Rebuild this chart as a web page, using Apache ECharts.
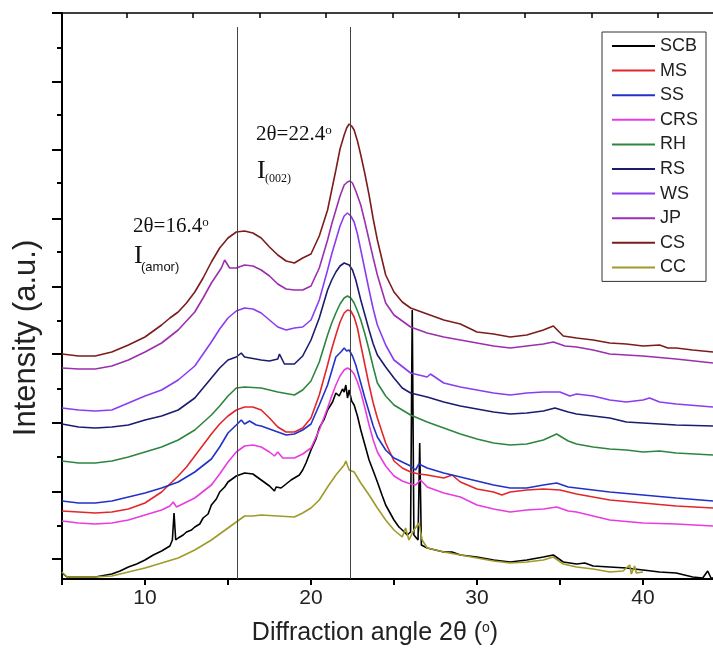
<!DOCTYPE html>
<html>
<head>
<meta charset="utf-8">
<script src="https://cdn.jsdelivr.net/npm/echarts/dist/echarts.min.js"></script>
<style>
  html, body { margin: 0; padding: 0; background: #fff; }
  #chart { width: 713px; height: 666px; }
</style>
</head>
<body>
<div id="chart"></div>
<script>
// XRD patterns of the ten biomass samples, stacked (2θ in degrees, intensity in a.u.)
const seriesNames = ['SCB', 'MS', 'SS', 'CRS', 'RH', 'RS', 'WS', 'JP', 'CS', 'CC'];

const SCB = [[5,6],[5.3,2],[6,2],[7,2],[8,5],[8.5,8],[9,12],[9.5,15],[10,19],[10.5,24],[11,28],[11.3,31],[11.5,33],[11.65,39],[11.75,66],[11.85,39],[12,41],[12.3,44],[12.5,47],[12.8,49],[13,52],[13.3,55],[13.5,61],[13.8,65],[14,74],[14.3,80],[14.5,87],[14.8,92],[15,97],[15.5,103],[16,106],[16.5,105],[17,99],[17.5,93],[17.8,88],[17.9,92],[18,94],[18.2,91],[18.5,95],[18.8,99],[19,101],[19.3,104],[19.5,109],[19.7,116],[20,129],[20.3,140],[20.5,151],[20.8,160],[21,169],[21.3,177],[21.5,186],[21.7,183],[21.9,190],[22,187],[22.1,194],[22.2,181],[22.3,189],[22.45,178],[22.6,174],[22.8,163],[23,149],[23.2,137],[23.5,119],[23.8,106],[24,97],[24.3,83],[24.5,74],[24.8,65],[25,59],[25.3,52],[25.5,49],[25.8,44],[26,47],[26.1,269],[26.2,44],[26.45,39],[26.55,136],[26.65,34],[27,31],[27.5,29],[28,27],[28.5,27],[29,24],[30,22],[31,19],[32,17],[33,19],[34,22],[34.6,24],[35.2,17],[36,15],[36.5,16],[37,13],[38,12],[39,11],[40,9],[41,7],[42,6],[43,2],[43.6,1],[43.9,8],[44.1,1],[44.22,1]];

const MS = [[5,68],[6,67],[7,66],[8,67],[9,70],[10,76],[11,87],[12,103],[12.5,112],[13,123],[13.5,134],[14,145],[14.5,155],[15,163],[15.5,169],[16,172],[16.5,172],[17,169],[17.5,161],[18,152],[18.5,147],[19,147],[19.5,151],[20,161],[20.5,184],[21,214],[21.25,230],[21.5,244],[21.75,257],[22,266],[22.2,269],[22.4,268],[22.6,262],[22.8,251],[23,234],[23.25,214],[23.5,194],[23.75,176],[24,161],[24.5,136],[25,118],[25.5,111],[26,107],[26.5,105],[27,104],[28,101],[28.5,104],[29,97],[30,90],[31,87],[31.5,84],[32,87],[33,89],[34,90],[35,89],[36,85],[38,79],[40,76],[42,73],[44.22,71]];

const SS = [[5,78],[6,76],[7,76],[8,78],[9,82],[10,86],[11,91],[12,97],[13,107],[14,120],[14.5,132],[15,146],[15.5,154],[15.8,159],[16,155],[16.3,158],[16.7,154],[17,153],[18,147],[18.5,144],[19,145],[19.5,149],[20,155],[20.5,174],[21,194],[21.25,208],[21.5,222],[21.8,227],[22,231],[22.15,228],[22.3,229],[22.5,223],[22.7,214],[23,196],[23.25,181],[23.5,167],[23.75,153],[24,142],[24.5,129],[25,121],[25.5,117],[26,113],[26.3,109],[26.5,115],[27,111],[28,106],[29,102],[30,98],[31,94],[32,91],[33,91],[34,94],[34.8,96],[35.5,92],[36,91],[38,87],[40,84],[42,81],[44.22,78]];

const CRS = [[5,58],[6,56],[7,55],[8,56],[9,59],[10,64],[11,69],[11.5,73],[11.7,77],[11.9,72],[12,74],[13,81],[14,94],[14.5,105],[15,117],[15.5,127],[16,133],[16.5,134],[17,132],[17.5,127],[17.8,123],[18,127],[18.3,121],[19,121],[19.5,125],[20,131],[20.5,149],[21,171],[21.25,183],[21.5,194],[21.75,203],[22,209],[22.2,211],[22.4,209],[22.6,205],[22.8,197],[23,187],[23.25,171],[23.5,154],[23.75,139],[24,127],[24.5,113],[25,103],[25.5,98],[26,95],[26.3,94],[26.6,99],[27,92],[28,86],[29,82],[30,74],[31,70],[32,67],[33,69],[34,70],[34.8,72],[35.5,68],[36,67],[38,59],[40,56],[42,55],[44.22,53]];

const RH = [[5,118],[6,116],[7,116],[8,118],[9,122],[10,127],[11,132],[12,139],[13,149],[14,164],[14.5,173],[15,183],[15.5,191],[16,192],[17,191],[18,187],[19,184],[19.5,189],[20,198],[20.5,217],[21,244],[21.25,256],[21.5,266],[21.75,275],[22,281],[22.2,283],[22.4,281],[22.6,276],[22.8,268],[23,259],[23.25,245],[23.5,229],[23.75,212],[24,196],[24.5,183],[25,174],[26,164],[27,157],[28,151],[29,145],[30,140],[31,136],[32,134],[33,135],[34,139],[34.8,145],[35.5,138],[36,135],[37,132],[38,130],[39,129],[40,127],[41,128],[42,126],[44.22,124]];

const RS = [[5,155],[6,152],[7,151],[8,152],[9,154],[10,159],[11,163],[12,169],[13,181],[14,201],[14.5,211],[15,219],[15.5,222],[15.8,226],[16,222],[17,219],[17.5,218],[18,220],[18.1,225],[18.4,215],[19,215],[19.5,223],[20,239],[20.5,261],[21,289],[21.25,299],[21.5,307],[21.75,313],[22,316],[22.3,314],[22.5,309],[22.7,299],[23,279],[23.25,264],[23.5,249],[23.75,235],[24,224],[24.5,212],[25,201],[25.5,191],[26,186],[27,182],[28,177],[29,173],[30,170],[31,167],[32,165],[33,166],[34,168],[34.7,171],[35.5,167],[36,165],[37,163],[38,161],[39,157],[40,156],[42,154],[44.22,153]];

const WS = [[5,171],[6,169],[7,168],[8,169],[9,176],[10,183],[11,189],[12,199],[13,213],[14,237],[14.5,250],[15,261],[15.5,268],[16,271],[16.5,270],[17,266],[17.5,259],[18,252],[18.5,249],[19,251],[19.5,252],[20,259],[20.5,279],[21,309],[21.25,325],[21.5,339],[21.75,353],[22,363],[22.2,366],[22.4,363],[22.6,357],[22.8,345],[23,329],[23.25,309],[23.5,289],[23.75,270],[24,254],[24.5,234],[25,219],[26,206],[27,202],[27.2,205],[28,196],[29,192],[30,189],[31,186],[32,184],[33,186],[34,187],[35,187],[35.6,183],[36,185],[37,183],[38,179],[39,177],[40,179],[40.4,181],[41,177],[42,175],[44.22,172]];

const JP = [[5,211],[6,210],[7,210],[8,213],[9,219],[10,227],[11,236],[12,249],[13,267],[13.5,281],[14,296],[14.6,311],[14.8,319],[15.1,311],[15.5,311],[16,314],[16.5,313],[17,309],[17.5,303],[18,295],[18.5,290],[19,289],[19.5,289],[20,293],[20.5,311],[21,339],[21.25,355],[21.5,369],[21.75,383],[22,394],[22.2,397],[22.35,398],[22.5,396],[22.7,388],[23,374],[23.25,357],[23.5,339],[23.75,321],[24,304],[24.5,276],[25,264],[26,252],[27,246],[28,242],[29,239],[30,236],[31,233],[32,231],[33,233],[34,235],[34.6,237],[35.3,233],[36,232],[37,229],[38,225],[40,223],[42,220],[44.22,216]];

const CS = [[5,225],[6,223],[7,223],[8,227],[9,234],[10,242],[11,254],[11.5,261],[12,267],[12.5,276],[13,287],[13.5,301],[14,317],[14.5,331],[15,341],[15.5,347],[16,348],[16.5,346],[17,341],[17.5,332],[18,324],[18.5,318],[19,316],[19.5,321],[20,325],[20.5,343],[21,369],[21.25,389],[21.5,409],[21.75,430],[22,444],[22.15,451],[22.3,455],[22.45,453],[22.6,449],[22.8,438],[23,424],[23.25,405],[23.5,384],[23.75,360],[24,339],[24.5,304],[25,287],[25.5,277],[26,271],[27,265],[28,259],[29,255],[30,247],[31,245],[32,242],[33,244],[34,249],[34.6,253],[35.2,243],[36,241],[37,239],[38,236],[39,235],[40,233],[41,234],[41.5,231],[42,231],[43,229],[44.22,227]];

const CC = [[5,7],[5.3,2],[6,2],[7,2],[8,3],[9,7],[10,11],[11,16],[12,21],[13,29],[14,39],[15,51],[15.5,57],[16,63],[16.5,63],[17,64],[18,63],[19,62],[19.5,66],[20,71],[20.5,79],[21,92],[21.5,104],[22,114],[22.1,118],[22.3,109],[22.6,107],[23,96],[23.5,84],[24,71],[24.5,59],[25,49],[25.5,42],[25.7,51],[25.9,39],[26.2,49],[26.5,56],[26.7,39],[27,31],[28,27],[29,24],[30,21],[31,18],[32,16],[33,17],[34,19],[34.6,22],[35.2,15],[36,12],[37,10],[38,7],[38.8,8],[39.2,14],[39.3,5],[39.5,13],[39.6,6],[40,7]];

const seriesData = [SCB, MS, SS, CRS, RH, RS, WS, JP, CS, CC];
const seriesColors = ['#000000', '#e3262a', '#2231c8', '#e83ce0', '#2e8540', '#1c1c6e', '#8a3cf0', '#9b2fae', '#7b1d1d', '#a09a28'];

// reference lines for the amorphous and crystalline (002) reflections
const refLines = [15.58, 22.35];
const refLineTop = 552;

// axis ticks
const bottomTicks = [5, 10, 15, 20, 25, 30, 35, 40];
const bottomLabels = [10, 20, 30, 40];
const topTicks = [8.9, 12.9, 16.9, 20.9, 24.9, 28.9, 32.9, 36.9, 40.9];
const leftMajorTicks = [20, 87, 156, 225, 292, 360, 429, 497, 566];
const leftMinorTicks = [53, 122, 190, 258, 327, 396, 464, 531];

const serif = '"Liberation Serif", "Times New Roman", serif';
const sans = '"Liberation Sans", Arial, sans-serif';

const chart = echarts.init(document.getElementById('chart'), null, { renderer: 'canvas' });

const series = seriesNames.map((name, i) => ({
  name: name,
  type: 'line',
  data: seriesData[i],
  symbol: 'none',
  showSymbol: false,
  smooth: false,
  lineStyle: { width: 1.6, color: seriesColors[i] },
  itemStyle: { color: seriesColors[i] },
  emphasis: { disabled: true },
  z: 3
}));

series[0].markLine = {
  silent: true,
  symbol: 'none',
  animation: false,
  label: { show: false },
  lineStyle: { color: '#444', width: 1, type: 'solid' },
  data: refLines.map(x => [{ coord: [x, refLineTop] }, { coord: [x, 0] }])
};

const supStyle = { fontSize: 13, fontFamily: serif, verticalAlign: 'top', fill: '#111' };

const option = {
  animation: false,
  backgroundColor: '#ffffff',
  grid: { left: 62, right: 0, top: 13, bottom: 87, containLabel: false },
  xAxis: [
    {
      type: 'value', min: 5, max: 44.22, position: 'bottom',
      axisLine: { onZero: false, lineStyle: { color: '#000', width: 2 } },
      axisTick: { customValues: bottomTicks, inside: false, length: 6, lineStyle: { color: '#000', width: 2 } },
      axisLabel: { customValues: bottomLabels, fontSize: 21, fontFamily: sans, color: '#222', margin: 9 },
      splitLine: { show: false }
    },
    {
      type: 'value', min: 5, max: 44.22, position: 'top',
      axisLine: { onZero: false, lineStyle: { color: '#000', width: 1.5 } },
      axisTick: { customValues: topTicks, inside: true, length: 5, lineStyle: { color: '#000', width: 1.5 } },
      axisLabel: { show: false },
      splitLine: { show: false }
    }
  ],
  yAxis: [
    {
      type: 'value', min: 0, max: 566, position: 'left',
      axisLine: { show: true, onZero: false, lineStyle: { color: '#000', width: 2 } },
      axisTick: { show: true, customValues: leftMajorTicks, inside: false, length: 10, lineStyle: { color: '#000', width: 2 } },
      axisLabel: { show: false },
      splitLine: { show: false }
    },
    {
      type: 'value', min: 0, max: 566, position: 'left',
      axisLine: { show: false, onZero: false },
      axisTick: { show: true, customValues: leftMinorTicks, inside: false, length: 5, lineStyle: { color: '#000', width: 2 } },
      axisLabel: { show: false },
      splitLine: { show: false }
    }
  ],
  legend: {
    orient: 'vertical',
    left: 602, top: 32,
    padding: [5, 8, 5, 10],
    icon: 'rect',
    itemWidth: 43, itemHeight: 2, itemGap: 6.6,
    borderColor: '#333', borderWidth: 1,
    backgroundColor: '#fff',
    textStyle: { fontSize: 18, lineHeight: 18, fontFamily: sans, color: '#222' },
    data: seriesNames
  },
  graphic: [
    { type: 'text', left: 256, top: 124, style: { text: '2θ=22.4{s|o}', font: '21px ' + serif, fill: '#111', rich: { s: supStyle } } },
    { type: 'text', left: 257, top: 158, style: { text: 'I', font: '26px ' + serif, fill: '#111' } },
    { type: 'text', left: 265, top: 173, style: { text: '(002)', font: '12px ' + serif, fill: '#111' } },
    { type: 'text', left: 133, top: 216, style: { text: '2θ=16.4{s|o}', font: '21px ' + serif, fill: '#111', rich: { s: supStyle } } },
    { type: 'text', left: 134, top: 243, style: { text: 'I', font: '26px ' + serif, fill: '#111' } },
    { type: 'text', left: 141, top: 261, style: { text: '(amor)', font: '13px ' + sans, fill: '#111' } },
    {
      type: 'text', x: 375, y: 621,
      style: {
        text: 'Diffraction angle 2θ ({s|o})', font: '25px ' + sans, fill: '#222', textAlign: 'center',
        rich: { s: { fontSize: 14, fontFamily: sans, verticalAlign: 'top', fill: '#222' } }
      }
    },
    {
      type: 'text', x: 26, y: 338, rotation: Math.PI / 2,
      style: { text: 'Intensity (a.u.)', font: '31px ' + sans, fill: '#222', textAlign: 'center', textVerticalAlign: 'middle' }
    }
  ],
  series: series
};

chart.setOption(option);
</script>
</body>
</html>
